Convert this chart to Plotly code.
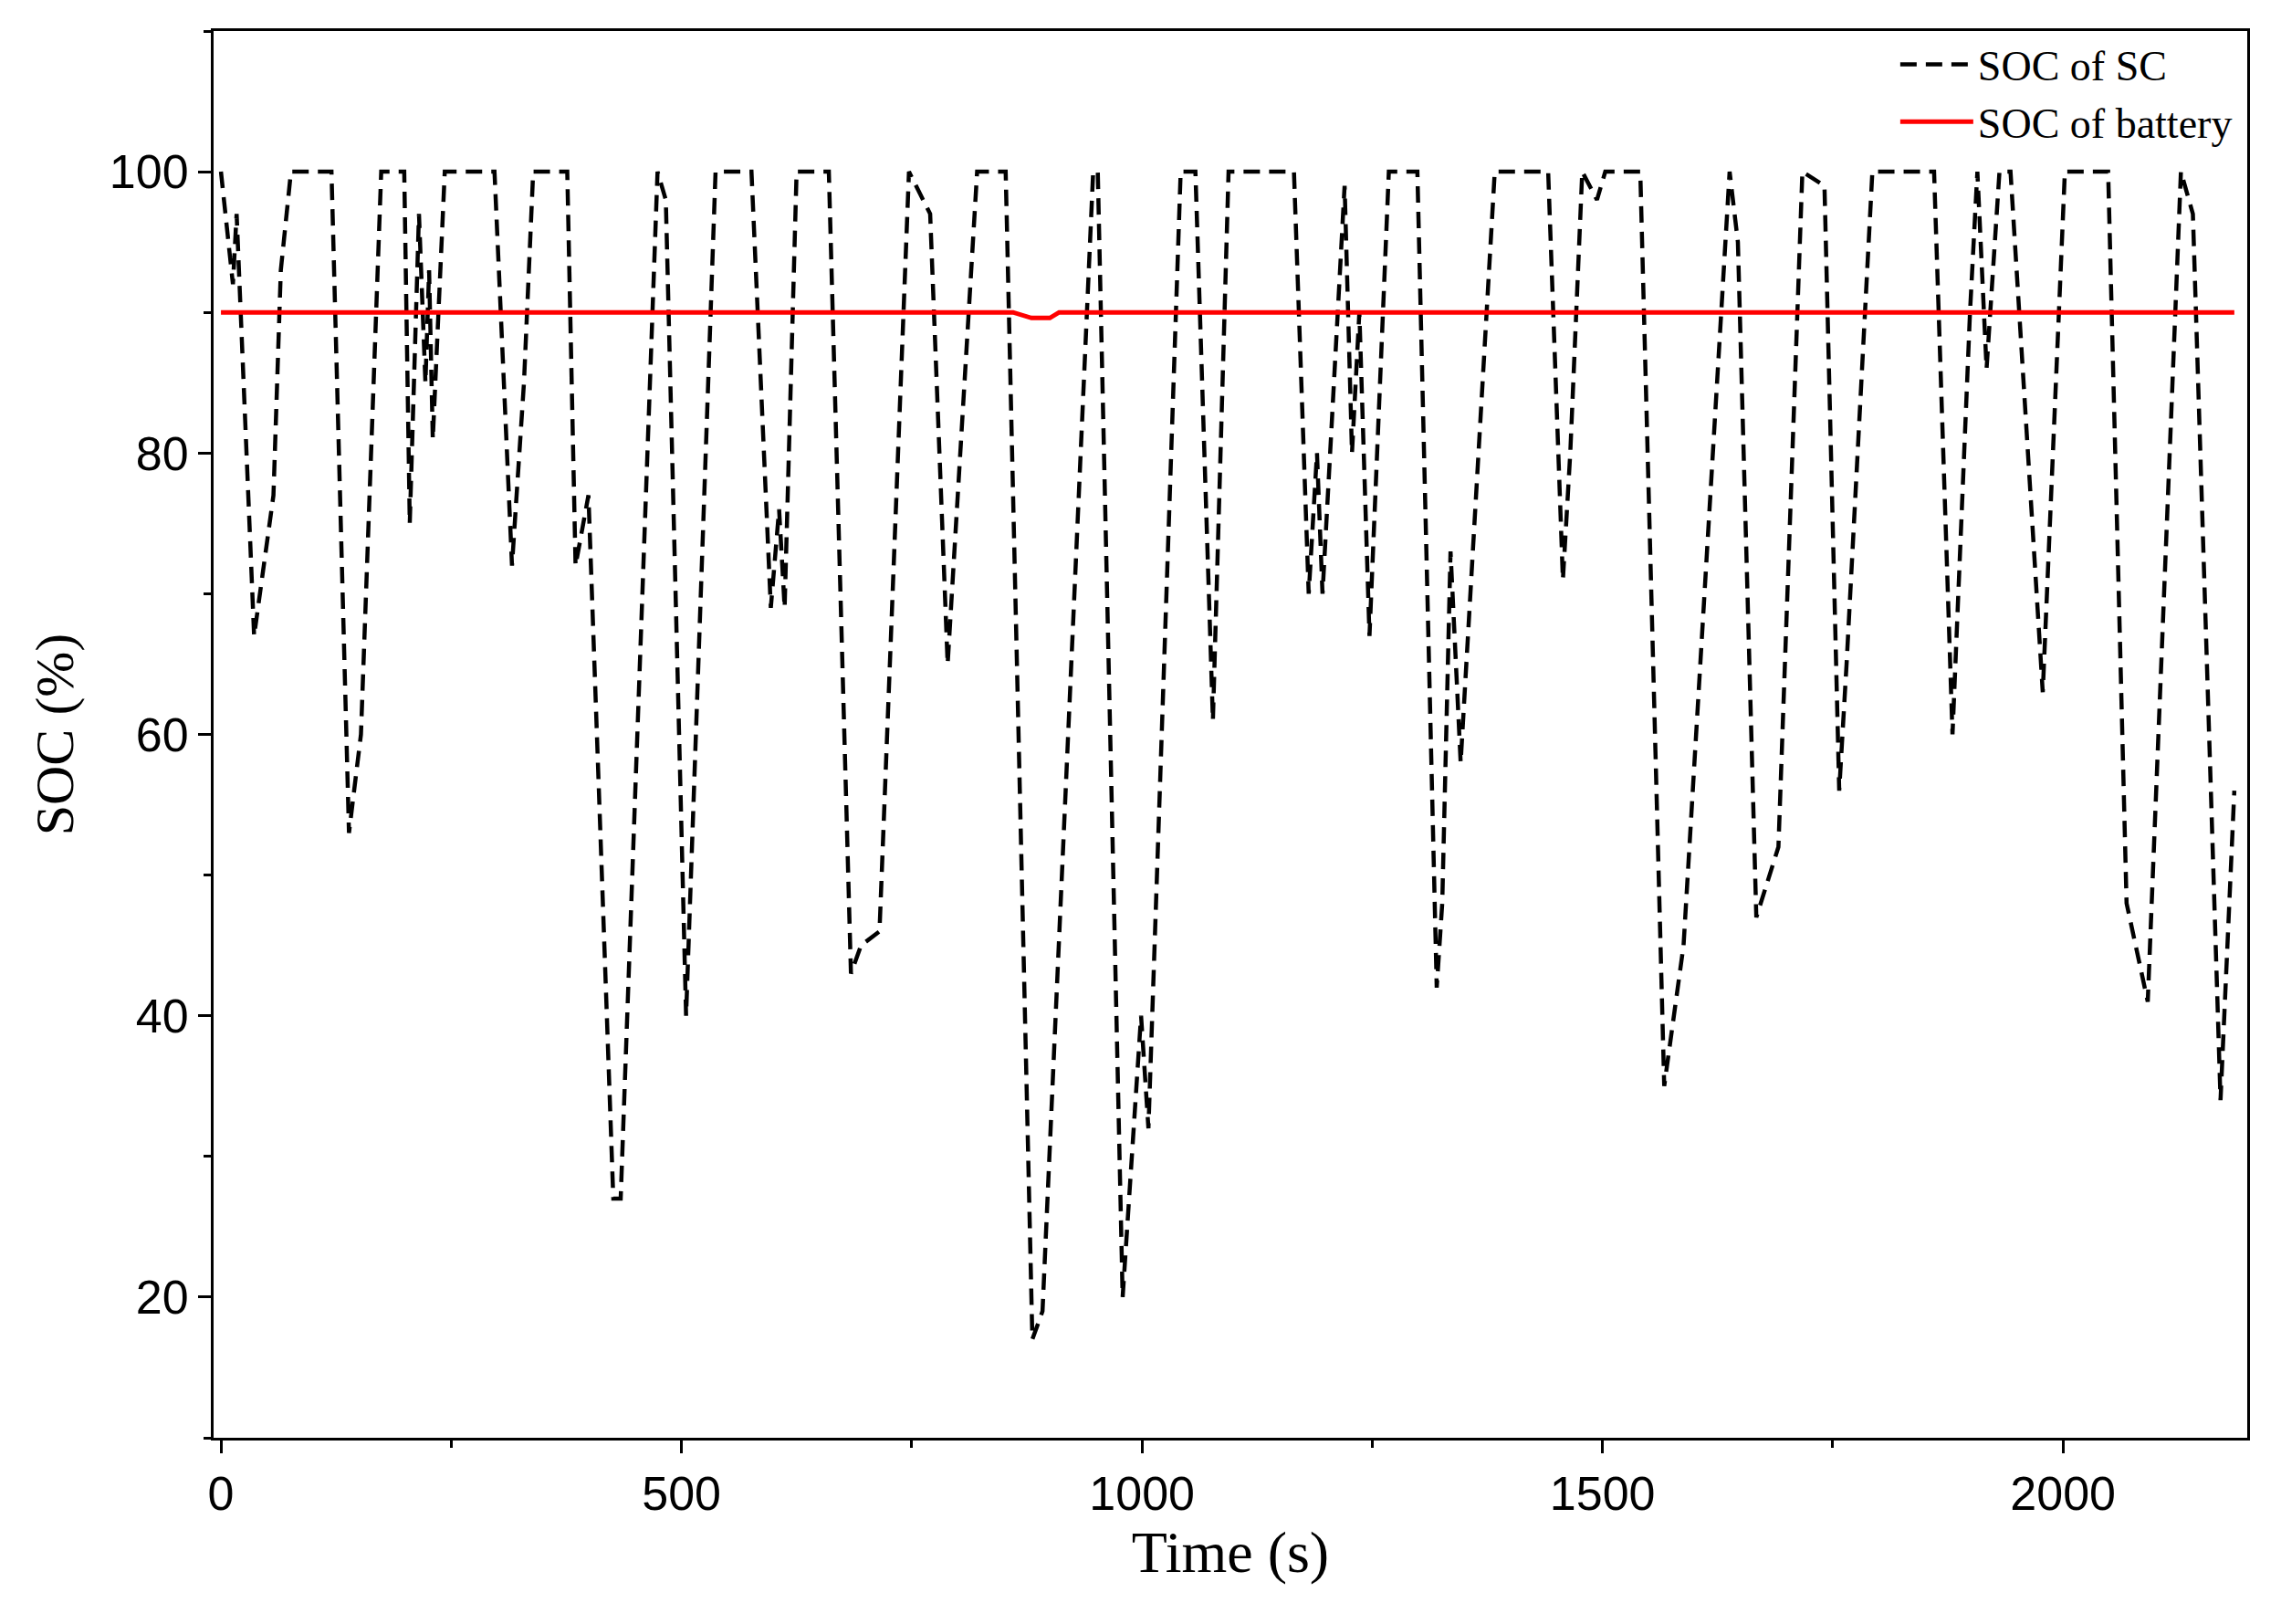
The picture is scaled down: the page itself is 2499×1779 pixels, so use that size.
import plotly.graph_objects as go

t_sc = [0,13,17,36,57,65,76,120,139,152,174,199,205,215,222,226,230,243,297,316,329,339,376,385,399,426,434,474,483,505,537,576,597,606,612,625,660,684,695,715,747,770,789,821,852,881,892,947,952,979,999,1007,1042,1058,1077,1094,1165,1181,1190,1196,1220,1228,1236,1247,1268,1299,1320,1326,1335,1346,1383,1441,1457,1465,1478,1494,1503,1541,1567,1588,1638,1647,1667,1691,1717,1741,1757,1765,1793,1860,1880,1899,1907,1917,1931,1943,1978,2002,2049,2069,2092,2128,2141,2171,2186]
soc_sc = [100,92,97,67,77,93,100,100,53,60,100,100,75,97,85,93,81,100,100,72,85,100,100,72,77,27,27,100,98,40,100,100,69,76,69,100,100,43,45,46,100,97,65,100,100,17,19,100,100,20,40,32,100,100,61,100,100,70,80,70,99,80,90,67,100,100,42,48,73,58,100,100,71,80,100,98,100,100,35,45,100,95,47,52,100,99,56,65,100,100,60,90,100,86,100,100,63,100,100,48,41,100,97,34,56]
t_bat = [0,860,880,900,910,2186]
soc_bat = [90,90,89.6,89.6,90,90]

fig = go.Figure()
fig.add_trace(go.Scatter(x=t_sc, y=soc_sc, mode="lines", name="SOC of SC",
                         line=dict(color="black", width=4.5, dash="18px,10px")))
fig.add_trace(go.Scatter(x=t_bat, y=soc_bat, mode="lines", name="SOC of battery",
                         line=dict(color="#ff0000", width=5)))
axcommon = dict(showgrid=False, zeroline=False, showline=True, linecolor="black", linewidth=3,
                mirror=True, ticks="outside", ticklen=14, tickwidth=3, tickcolor="black",
                tickfont=dict(family="Liberation Sans", size=52, color="black"),
                minor=dict(ticks="outside", ticklen=8, tickwidth=3, tickcolor="black"))
fig.update_xaxes(range=[-8, 2200], tickvals=[0,500,1000,1500,2000],
                 minor_dtick=250, **axcommon,
                 title=dict(text="Time (s)", font=dict(family="Liberation Serif", size=64, color="black"), standoff=10))
fig.update_yaxes(range=[10, 110], tickvals=[20,40,60,80,100], minor_dtick=10, **axcommon,
                 title=dict(text="SOC (%)", font=dict(family="Liberation Serif", size=60, color="black"), standoff=20))
fig.update_layout(width=2499, height=1779, plot_bgcolor="white", paper_bgcolor="white",
                  margin=dict(l=226, r=45, t=26, b=212),
                  legend=dict(x=0.995, y=1.0, xanchor="right", yanchor="top", bgcolor="rgba(0,0,0,0)",
                              itemwidth=80,
                              font=dict(family="Liberation Serif", size=46, color="black")))
fig.write_html("out.html")
